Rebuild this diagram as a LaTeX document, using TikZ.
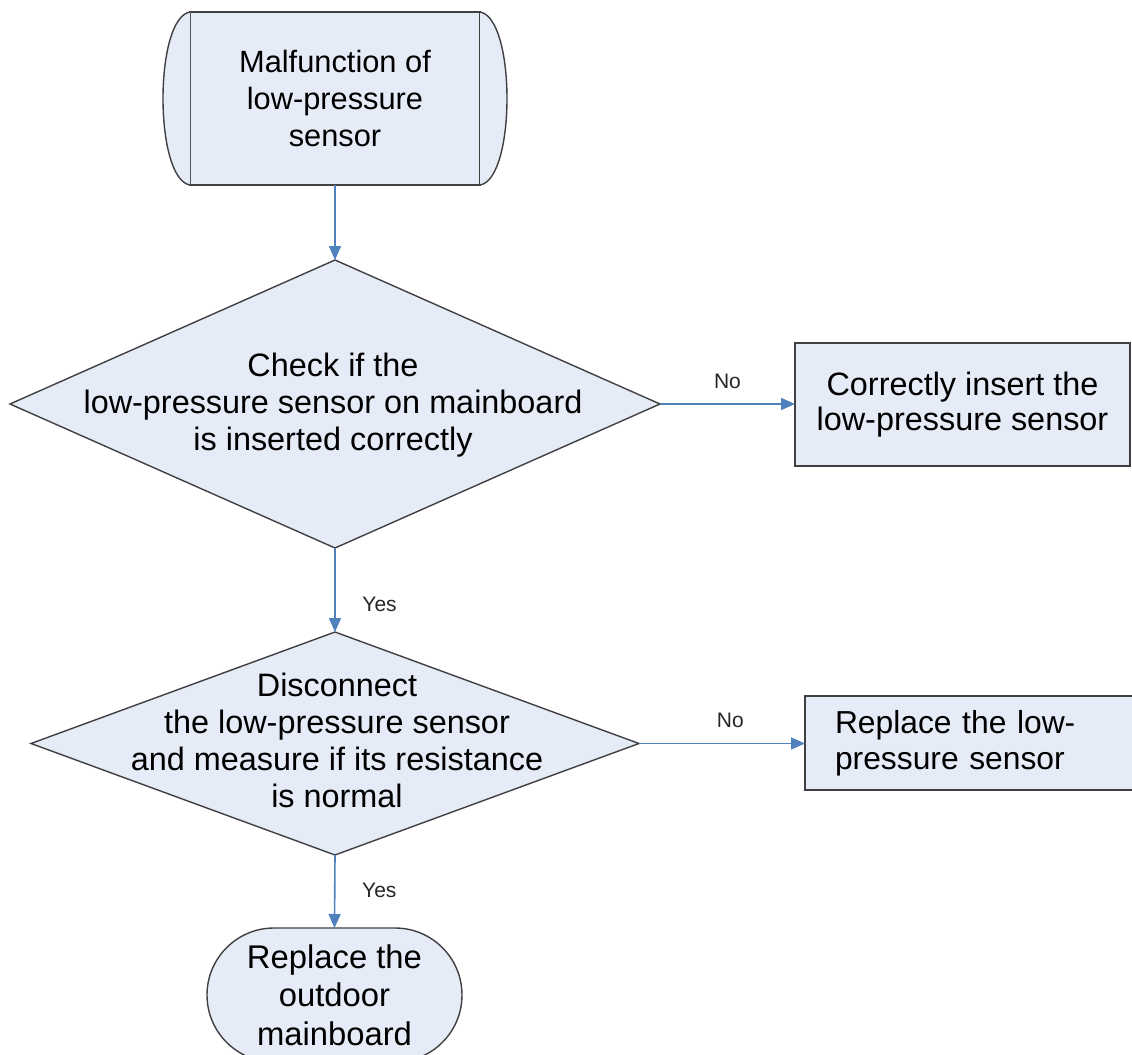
\documentclass[tikz,border=0pt]{standalone}
\usepackage{fontspec}
\setmainfont{Liberation Sans}
\usetikzlibrary{shapes.geometric,shapes.misc,arrows.meta,positioning}
\definecolor{boxfill}{RGB}{230,236,247}
\definecolor{flowblue}{RGB}{79,129,189}
\definecolor{edgegray}{RGB}{64,64,64}

\begin{document}
\begin{tikzpicture}[x=0.5pt,y=-0.5pt,
    every node/.style={font=\fontsize{16.2}{18.5}\selectfont},
    shapebox/.style={draw=edgegray,fill=boxfill,line width=0.7pt},
    decision/.style={shapebox,diamond,inner sep=0pt,outer sep=0pt},
    action/.style={shapebox,rectangle,outer sep=0pt,font=\fontsize{16.2}{17.8}\selectfont},
    terminal/.style={shapebox,rounded rectangle,outer sep=0pt,inner sep=0pt},
    flow/.style={flowblue,line width=0.8pt,-{Triangle[length=7pt,width=6pt]}},
    answer/.style={text=black!85,font=\fontsize{10.5}{12}\selectfont}]
    \useasboundingbox (0,0) rectangle (1132,1055);
    \clip (0,0) rectangle (1132,1055);
    % start shape
    \node[action,font=\fontsize{15.4}{18.6}\selectfont,minimum width=145pt,
        minimum height=86.5pt,align=center] (start)
        at (335,98.5) {Malfunction of\\low-pressure\\sensor};
    \path[shapebox] (start.north west)
        .. controls +(-36,6) and +(-36,-6) .. (start.south west);
    \path[shapebox] (start.north east)
        .. controls +(36,6) and +(36,-6) .. (start.south east);
    % first check
    \node[decision,minimum width=325pt,minimum height=144pt] (chk) at (335,404) {};
    \node[align=center] (chktext) at (333,405)
        {Check if the\\low-pressure sensor on mainboard\\is inserted correctly};
    \node[action,minimum width=167.5pt,minimum height=61.5pt,align=center] (fix)
        at (962.5,404.5) {Correctly insert the\\low-pressure sensor};
    % second check
    \node[decision,minimum width=304pt,minimum height=111.5pt] (meas) at (335,743.5) {};
    \node[align=center] (meastext) at (337,740)
        {Disconnect\\the low-pressure sensor\\and measure if its resistance\\is normal};
    \node[action,font=\fontsize{15.9}{17.8}\selectfont,minimum width=167.5pt,
        minimum height=47pt,text width=137.5pt,inner xsep=15pt,align=left] (swap)
        at (972.5,743) {Replace the low-\\pressure sensor};
    % end shape
    \node[terminal,minimum width=127.5pt,minimum height=67pt,align=center,
        font=\fontsize{16.4}{19.2}\selectfont] (fin)
        at (334.5,995) {Replace the\\outdoor\\mainboard};
    % connectors
    \draw[flow] (start.south) -- (chk.north);
    \draw[flow] (chk.east) -- node[answer,above=4pt] (no1) {No} (fix.west |- chk.east);
    \draw[flow] (chk.south) -- node[answer,pos=0.67,right=10pt] (yes1) {Yes} (meas.north);
    \draw[flow] (meas.east) -- node[answer,pos=0.55,above=4pt] (no2) {No} (swap.west |- meas.east);
    \draw[flow] (meas.south) -- node[answer,pos=0.49,right=10pt] (yes2) {Yes} (fin.north);
\end{tikzpicture}
\end{document}
